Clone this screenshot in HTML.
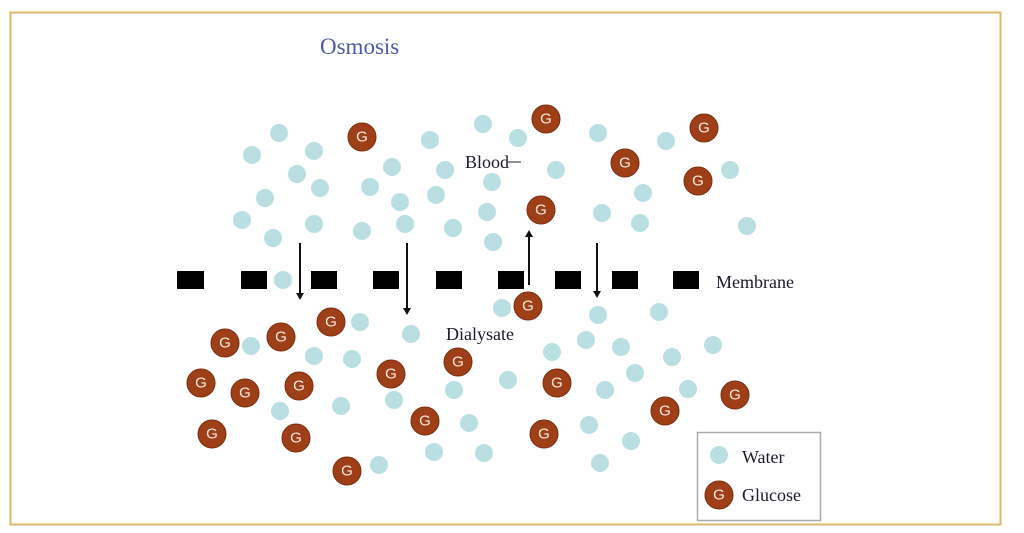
<!DOCTYPE html>
<html><head><meta charset="utf-8"><style>
html,body{margin:0;padding:0;background:#fff;width:1024px;height:533px;overflow:hidden}
svg{display:block}
.w{fill:#b9dfe3}
.g circle{fill:#9e3f17;stroke:#7a2e0e;stroke-width:1}
.g text{fill:#f7ece4;font-family:"Liberation Sans",sans-serif;font-size:15px;text-anchor:middle;dominant-baseline:central}
.t{font-family:"Liberation Serif",serif;fill:#1a1a2a}
</style></head><body>
<svg width="1024" height="533" viewBox="0 0 1024 533">
<rect x="10.5" y="12.5" width="990" height="512" fill="none" stroke="#ddb96a" stroke-width="2"/>
<text x="320" y="54" class="t" style="font-size:23px;fill:#4a5aa8">Osmosis</text>
<g>
<circle class="w" cx="279" cy="133" r="9"/><circle class="w" cx="252" cy="155" r="9"/><circle class="w" cx="314" cy="151" r="9"/><circle class="w" cx="297" cy="174" r="9"/><circle class="w" cx="320" cy="188" r="9"/><circle class="w" cx="265" cy="198" r="9"/><circle class="w" cx="242" cy="220" r="9"/><circle class="w" cx="273" cy="238" r="9"/><circle class="w" cx="314" cy="224" r="9"/><circle class="w" cx="362" cy="231" r="9"/><circle class="w" cx="370" cy="187" r="9"/><circle class="w" cx="392" cy="167" r="9"/><circle class="w" cx="430" cy="140" r="9"/><circle class="w" cx="400" cy="202" r="9"/><circle class="w" cx="405" cy="224" r="9"/><circle class="w" cx="436" cy="195" r="9"/><circle class="w" cx="445" cy="170" r="9"/><circle class="w" cx="453" cy="228" r="9"/><circle class="w" cx="483" cy="124" r="9"/><circle class="w" cx="518" cy="138" r="9"/><circle class="w" cx="492" cy="182" r="9"/><circle class="w" cx="487" cy="212" r="9"/><circle class="w" cx="556" cy="170" r="9"/><circle class="w" cx="493" cy="242" r="9"/><circle class="w" cx="598" cy="133" r="9"/><circle class="w" cx="666" cy="141" r="9"/><circle class="w" cx="643" cy="193" r="9"/><circle class="w" cx="602" cy="213" r="9"/><circle class="w" cx="640" cy="223" r="9"/><circle class="w" cx="730" cy="170" r="9"/><circle class="w" cx="747" cy="226" r="9"/><circle class="w" cx="283" cy="280" r="9"/>
<circle class="w" cx="360" cy="322" r="9"/><circle class="w" cx="411" cy="334" r="9"/><circle class="w" cx="251" cy="346" r="9"/><circle class="w" cx="314" cy="356" r="9"/><circle class="w" cx="352" cy="359" r="9"/><circle class="w" cx="552" cy="352" r="9"/><circle class="w" cx="586" cy="340" r="9"/><circle class="w" cx="621" cy="347" r="9"/><circle class="w" cx="659" cy="312" r="9"/><circle class="w" cx="598" cy="315" r="9"/><circle class="w" cx="672" cy="357" r="9"/><circle class="w" cx="713" cy="345" r="9"/><circle class="w" cx="454" cy="390" r="9"/><circle class="w" cx="508" cy="380" r="9"/><circle class="w" cx="394" cy="400" r="9"/><circle class="w" cx="341" cy="406" r="9"/><circle class="w" cx="280" cy="411" r="9"/><circle class="w" cx="605" cy="390" r="9"/><circle class="w" cx="635" cy="373" r="9"/><circle class="w" cx="688" cy="389" r="9"/><circle class="w" cx="469" cy="423" r="9"/><circle class="w" cx="589" cy="425" r="9"/><circle class="w" cx="631" cy="441" r="9"/><circle class="w" cx="434" cy="452" r="9"/><circle class="w" cx="484" cy="453" r="9"/><circle class="w" cx="600" cy="463" r="9"/><circle class="w" cx="379" cy="465" r="9"/><circle class="w" cx="502" cy="308" r="9"/>
</g>
<g class="g">
<circle cx="362" cy="137" r="14"/><text x="362" y="137">G</text>
<circle cx="546" cy="119" r="14"/><text x="546" y="119">G</text>
<circle cx="704" cy="128" r="14"/><text x="704" y="128">G</text>
<circle cx="625" cy="163" r="14"/><text x="625" y="163">G</text>
<circle cx="698" cy="181" r="14"/><text x="698" y="181">G</text>
<circle cx="541" cy="210" r="14"/><text x="541" y="210">G</text>
<circle cx="528" cy="306" r="14"/><text x="528" y="306">G</text>
<circle cx="331" cy="322" r="14"/><text x="331" y="322">G</text>
<circle cx="281" cy="337" r="14"/><text x="281" y="337">G</text>
<circle cx="225" cy="343" r="14"/><text x="225" y="343">G</text>
<circle cx="201" cy="383" r="14"/><text x="201" y="383">G</text>
<circle cx="245" cy="393" r="14"/><text x="245" y="393">G</text>
<circle cx="299" cy="386" r="14"/><text x="299" y="386">G</text>
<circle cx="391" cy="374" r="14"/><text x="391" y="374">G</text>
<circle cx="458" cy="362" r="14"/><text x="458" y="362">G</text>
<circle cx="557" cy="383" r="14"/><text x="557" y="383">G</text>
<circle cx="212" cy="434" r="14"/><text x="212" y="434">G</text>
<circle cx="296" cy="438" r="14"/><text x="296" y="438">G</text>
<circle cx="425" cy="421" r="14"/><text x="425" y="421">G</text>
<circle cx="544" cy="434" r="14"/><text x="544" y="434">G</text>
<circle cx="665" cy="411" r="14"/><text x="665" y="411">G</text>
<circle cx="735" cy="395" r="14"/><text x="735" y="395">G</text>
<circle cx="347" cy="471" r="14"/><text x="347" y="471">G</text>
</g>
<g fill="#000">
<rect x="177" y="271" width="27" height="18"/><rect x="241" y="271" width="26" height="18"/><rect x="311" y="271" width="26" height="18"/><rect x="373" y="271" width="26" height="18"/><rect x="436" y="271" width="26" height="18"/><rect x="498" y="271" width="26" height="18"/><rect x="555" y="271" width="26" height="18"/><rect x="612" y="271" width="26" height="18"/><rect x="673" y="271" width="26" height="18"/>
</g>
<g stroke="#111" stroke-width="2" fill="#111">
<line x1="300" y1="243" x2="300" y2="294"/><polygon points="296,293 304,293 300,300" stroke="none"/>
<line x1="407" y1="243" x2="407" y2="309"/><polygon points="403,308 411,308 407,315" stroke="none"/>
<line x1="529" y1="285" x2="529" y2="236"/><polygon points="525,237 533,237 529,230" stroke="none"/>
<line x1="597" y1="243" x2="597" y2="292"/><polygon points="593,291 601,291 597,298" stroke="none"/>
</g>
<text x="465" y="168" class="t" style="font-size:18px">Blood</text>
<line x1="508" y1="162" x2="521" y2="162" stroke="#222" stroke-width="1"/>
<text x="716" y="288" class="t" style="font-size:18px">Membrane</text>
<text x="446" y="340" class="t" style="font-size:18px">Dialysate</text>
<rect x="697.5" y="432.5" width="123" height="88" fill="#fff" stroke="#aaa" stroke-width="1.5"/>
<circle class="w" cx="719" cy="455" r="9"/>
<g class="g"><circle cx="719" cy="495" r="14"/><text x="719" y="495">G</text></g>
<text x="742" y="463" class="t" style="font-size:18px">Water</text>
<text x="742" y="501" class="t" style="font-size:18px">Glucose</text>
</svg>
</body></html>
